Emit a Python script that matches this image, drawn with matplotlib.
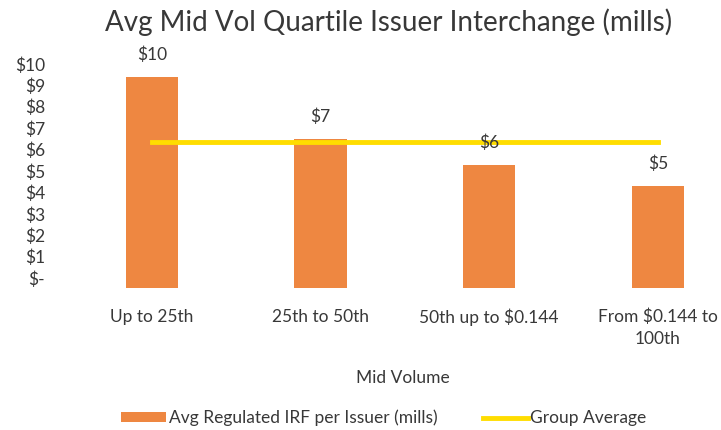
import numpy as np
import matplotlib
matplotlib.use("Agg")
import matplotlib.pyplot as plt
import matplotlib.transforms as mtransforms

# Data

categories = ["Up to 25th", "25th to 50th", "50th up to $0.144", "From $0.144 to\n100th"]
irf_values = [9.85, 6.95, 5.75, 4.75]
group_average = [6.8, 6.8, 6.8, 6.8]
bar_labels = ["$10", "$7", "$6", "$5"]
y_ticks = [0, 1, 2, 3, 4, 5, 6, 7, 8, 9, 10]
y_tick_labels = ["$-", "$1", "$2", "$3", "$4", "$5", "$6", "$7", "$8", "$9", "$10"]

plt.rcParams["font.family"] = ["Lato", "DejaVu Sans"]

bar_color = "#EE8741"
line_color = "#FFDD00"
text_color = "#383838"
fs = 12.5

fig = plt.figure(figsize=(7.21, 4.30), dpi=100)
ax = fig.add_axes([0.0818, 0.3302, 0.9126, 0.528])

x = np.arange(len(categories))

bars = ax.bar(x, irf_values, width=0.31, color=bar_color,
              label="Avg Regulated IRF per Issuer (mills)", zorder=2)
line, = ax.plot(x, group_average, color=line_color, linewidth=3.5,
                label="Group Average", zorder=3)

# Value labels above bars
for xi, val, lbl in zip(x, irf_values, bar_labels):
    ax.annotate(lbl, (xi, val), xytext=(0, 16), textcoords="offset points",
                ha="center", va="center", fontsize=fs, color=text_color,
                zorder=4)

ax.set_xlim(-0.55, 3.35)
ax.set_ylim(0, 10.6)

ax.set_xticks(x)
ax.set_xticklabels(categories, fontsize=fs, color=text_color, linespacing=1.45)
ax.set_yticks(y_ticks)
ax.set_yticklabels(y_tick_labels, fontsize=fs, color=text_color)
ax.tick_params(axis="both", length=0)
ax.tick_params(axis="x", pad=15)
ax.tick_params(axis="y", pad=10)

# y labels sit a bit higher in the reference
shift = mtransforms.ScaledTranslation(0, 10 / 100, fig.dpi_scale_trans)
for lbl in ax.get_yticklabels():
    lbl.set_transform(lbl.get_transform() + shift)

for spine in ax.spines.values():
    spine.set_visible(False)

fig.text(389 / 721, 1 - 22 / 430, "Avg Mid Vol Quartile Issuer Interchange (mills)",
         ha="center", va="center", fontsize=20, color=text_color)
fig.text(403 / 721, 1 - 378 / 430, "Mid Volume",
         ha="center", va="center", fontsize=fs, color=text_color)

fig.legend([bars, line], ["Avg Regulated IRF per Issuer (mills)", "Group Average"],
           loc="center", bbox_to_anchor=(384 / 721, 1 - 418 / 430), ncol=2,
           frameon=False, fontsize=fs, handlelength=2.6, handleheight=0.45,
           handletextpad=0.15, columnspacing=2.6, labelcolor=text_color)

fig.savefig("out.png", dpi=100)
